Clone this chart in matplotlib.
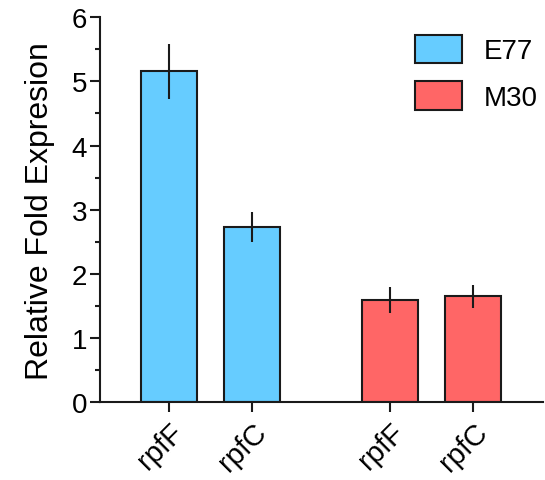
import matplotlib
matplotlib.use("Agg")
import matplotlib.pyplot as plt
from matplotlib.patches import Patch
from matplotlib.ticker import MultipleLocator

plt.rcParams['font.family'] = ['Liberation Sans', 'DejaVu Sans']

genes = ['rpfF', 'rpfC', 'rpfF', 'rpfC']
positions = [0, 1, 2.66, 3.66]
values = [5.16, 2.73, 1.59, 1.65]
errors = [0.43, 0.23, 0.2, 0.18]
strains = ['E77', 'E77', 'M30', 'M30']
colors = {'E77': '#66CCFF', 'M30': '#FF6666'}

fig = plt.figure(figsize=(5.45, 4.81), dpi=100)
ax = fig.add_axes([0.1835, 0.162, 0.813, 0.8])

ax.bar(positions, values, width=0.67, color=[colors[s] for s in strains],
       edgecolor='#1a1a1a', linewidth=1.5)
ax.errorbar(positions, values, yerr=errors, fmt='none', ecolor='#1a1a1a',
            elinewidth=1.5, capsize=0)

ax.set_xlim(-0.83, 4.5)
ax.set_ylim(0, 6)
ax.yaxis.set_major_locator(MultipleLocator(1))
ax.yaxis.set_minor_locator(MultipleLocator(0.5))
ax.set_xticks(positions)
ax.set_xticklabels(genes, rotation=45, ha='right', rotation_mode='anchor', fontsize=21)
ax.tick_params(axis='y', labelsize=20, width=1.5, length=7.2, color='#1a1a1a', pad=2)
ax.tick_params(axis='y', which='minor', width=1.5, length=3.6, color='#1a1a1a')
ax.tick_params(axis='x', width=1.5, length=7.2, color='#1a1a1a', pad=4)
ax.set_ylabel('Relative Fold Expresion', fontsize=23, labelpad=12)

for side in ['top', 'right']:
    ax.spines[side].set_visible(False)
for side in ['left', 'bottom']:
    ax.spines[side].set_linewidth(1.5)
    ax.spines[side].set_color('#1a1a1a')

handles = [Patch(facecolor=colors[k], edgecolor='#1a1a1a', linewidth=1.5, label=k)
           for k in ['E77', 'M30']]
ax.legend(handles=handles, loc='upper right', bbox_to_anchor=(1.045, 1.02), frameon=False,
          fontsize=20, handlelength=1.7, handleheight=1.2, labelspacing=0.62,
          handletextpad=0.8)

fig.savefig('out.png', dpi=100)
